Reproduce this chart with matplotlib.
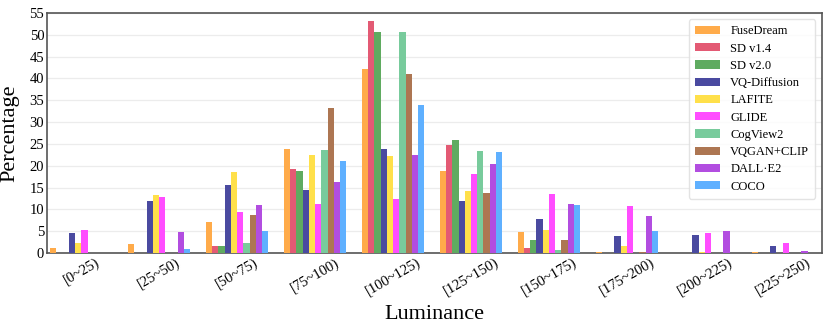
import matplotlib.pyplot as plt
import numpy as np

plt.rcParams['font.family'] = ['Liberation Serif', 'DejaVu Serif']

bins = ['[0~25)', '[25~50)', '[50~75)', '[75~100)', '[100~125)',
        '[125~150)', '[150~175)', '[175~200)', '[200~225)', '[225~250)']

models = ['FuseDream', 'SD v1.4', 'SD v2.0', 'VQ-Diffusion', 'LAFITE',
          'GLIDE', 'CogView2', 'VQGAN+CLIP', 'DALL·E2', 'COCO']

fusedream = [1.2, 2.0, 7.0, 23.8, 42.1, 18.8, 4.8, 0.3, 0.0, 0.3]
sd14 = [0.0, 0.0, 1.7, 19.2, 53.1, 24.8, 1.2, 0.0, 0.0, 0.0]
sd20 = [0.0, 0.0, 1.7, 18.8, 50.6, 26.0, 3.0, 0.0, 0.0, 0.0]
vqdiff = [4.5, 12.0, 15.5, 14.5, 23.8, 12.0, 7.7, 4.0, 4.2, 1.7]
lafite = [2.2, 13.2, 18.5, 22.5, 22.3, 14.2, 5.2, 1.5, 0.2, 0.0]
glide = [5.2, 12.8, 9.3, 11.3, 12.3, 18.1, 13.5, 10.7, 4.5, 2.2]
cogview2 = [0.0, 0.0, 2.2, 23.5, 50.6, 23.3, 0.6, 0.0, 0.0, 0.0]
vqgan = [0.0, 0.0, 8.7, 33.3, 41.1, 13.8, 3.0, 0.3, 0.0, 0.0]
dalle2 = [0.0, 4.8, 11.0, 16.2, 22.5, 20.3, 11.2, 8.5, 5.0, 0.5]
coco = [0.0, 1.0, 5.0, 21.0, 34.0, 23.1, 11.0, 5.0, 0.0, 0.0]

series = [fusedream, sd14, sd20, vqdiff, lafite, glide, cogview2, vqgan, dalle2, coco]
colors = ['#ffab4a', '#e35a74', '#5fab60', '#4a4aa0', '#ffe04a',
          '#ff4dff', '#78cb9c', '#ad7652', '#b24de0', '#5fb0ff']

fig = plt.figure(figsize=(8.3, 3.32), dpi=100)
ax = fig.add_axes([0.0566, 0.238, 0.9334, 0.723])

x = np.arange(len(bins))
w = 0.08
for i, (vals, name, c) in enumerate(zip(series, models, colors)):
    ax.bar(x - 0.4 + w * (i + 0.5), vals, width=w, color=c, label=name,
           edgecolor='none', zorder=3)

ax.set_xlim(-0.44, 9.5)
ax.set_ylim(0, 55)
ax.set_yticks(np.arange(0, 56, 5))
ax.set_xticks(x)
ax.set_xticklabels(bins, rotation=30, ha='center')
ax.tick_params(length=0, labelsize=10.5, pad=2)
ax.yaxis.grid(True, color='#ececec', linewidth=0.9, zorder=0)
for s in ax.spines.values():
    s.set_color('#555555')
    s.set_linewidth(1.2)

ax.set_ylabel('Percentage', fontsize=16, labelpad=7)
ax.set_xlabel('Luminance', fontsize=16, labelpad=5)

ax.legend(loc='upper right', fontsize=9,
          handlelength=2.0, handleheight=0.65, labelspacing=0.42,
          borderpad=0.5, handletextpad=0.8, edgecolor='#dddddd', fancybox=True)

fig.savefig('out.png', dpi=100)
